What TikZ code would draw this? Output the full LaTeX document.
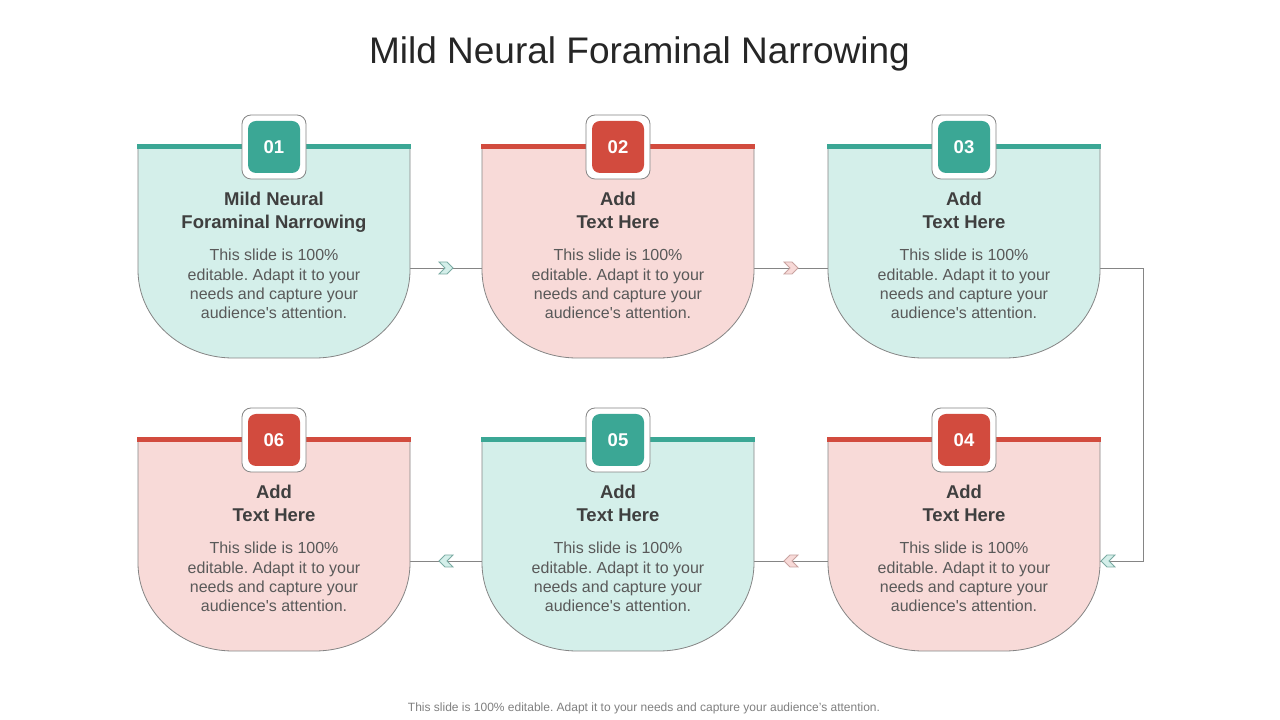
\documentclass[tikz,border=0pt]{standalone}
\usepackage{fontspec}
\setmainfont{Liberation Sans}
\usetikzlibrary{shapes.symbols,calc}
\definecolor{teal1}{HTML}{3BA795}
\definecolor{red1}{HTML}{D24B3E}
\definecolor{ltteal}{HTML}{D4EFEA}
\definecolor{ltpink}{HTML}{F8DAD8}
\definecolor{outl}{HTML}{858585}
\definecolor{titlec}{HTML}{3F3F3F}
\definecolor{bodyc}{HTML}{595959}
\definecolor{chevteal}{HTML}{7AABA3}
\definecolor{chevpink}{HTML}{C9A3A0}
\tikzset{
  conn/.style={draw=outl, line width=0.9pt},
  chev/.style={signal, minimum width=14pt, minimum height=12pt, inner sep=0pt, line width=0.8pt},
  chevE/.style={chev, signal from=west, signal to=east},
  chevW/.style={chev, signal from=east, signal to=west},
  tchev/.style={fill=ltteal, draw=chevteal},
  pchev/.style={fill=ltpink, draw=chevpink},
  ttl/.style={anchor=base, text=titlec, font=\fontsize{18.5}{22}\selectfont\bfseries, inner sep=0pt},
  bod/.style={anchor=base, text=bodyc, font=\fontsize{16}{19}\selectfont, inner sep=0pt},
  num/.style={text=white, font=\fontsize{18.5}{20}\selectfont\bfseries, inner sep=0pt},
}
\newcommand\stepcard[8]{%
  \begin{scope}[shift={(#2,#3)}]
    \draw[fill=#5, draw=outl, line width=0.8pt] (-136,0) -- (-136,-123.5)
      arc[start angle=180, end angle=270, x radius=95pt, y radius=88pt] -- (41,-211.5)
      arc[start angle=270, end angle=360, x radius=95pt, y radius=88pt] -- (136,0) -- cycle;
    \draw[#4, line width=5pt] (-137,0) -- (137,0);
    \node[draw=outl, fill=white, line width=0.8pt, rounded corners=9pt, minimum width=64pt, minimum height=64pt, inner sep=0pt] (#1-b) at (0,-0.5) {};
    \node[fill=#4, rounded corners=8pt, minimum width=52pt, minimum height=52pt, inner sep=0pt] (#1-bi) at (0,-0.5) {};
    \node[num] (#1-n) at (0,-0.5) {#6};
    \node[ttl] (#1-t1) at (0,-59.2) {#7};
    \node[ttl] (#1-t2) at (0,-82.5) {#8};
    \node[bod] (#1-d1) at (0,-114.5) {This slide is 100\%};
    \node[bod] (#1-d2) at (0,-133.8) {editable. Adapt it to your};
    \node[bod] (#1-d3) at (0,-152.9) {needs and capture your};
    \node[bod] (#1-d4) at (0,-171.9) {audience\textquotesingle s attention.};
  \end{scope}}
\begin{document}
\frenchspacing
\begin{tikzpicture}[x=1pt,y=1pt]
\fill[white] (0,0) rectangle (1280,720);
\useasboundingbox (0,0) rectangle (1280,720);
\node[anchor=base, text=black!85, font=\fontsize{37}{40}\selectfont, inner sep=0pt] (title) at (639.5,656) {Mild Neural Foraminal Narrowing};
% connectors
\coordinate (c1r) at (410,452);
\coordinate (c2l) at (482,452);
\coordinate (c2r) at (754,452);
\coordinate (c3l) at (828,452);
\coordinate (c3r) at (1100,452);
\coordinate (turn1) at (1143,452);
\coordinate (turn2) at (1143,159);
\coordinate (c4r) at (1100,159);
\coordinate (c4l) at (828,159);
\coordinate (c5r) at (754,159);
\coordinate (c5l) at (482,159);
\coordinate (c6r) at (410,159);
\draw[conn] (c1r) -- (c2l);
\draw[conn] (c2r) -- (c3l);
\draw[conn] (c3r) -- (turn1) -- (turn2) -- (c4r);
\draw[conn] (c4l) -- (c5r);
\draw[conn] (c5l) -- (c6r);
\node[chevE, tchev] (ch1) at ($(c1r)!0.5!(c2l)$) {};
\node[chevE, pchev] (ch2) at ($(c2r)!0.5!(c3l)$) {};
\node[chevW, tchev] (ch3) at (1108,159) {};
\node[chevW, pchev] (ch4) at ($(c4l)!0.5!(c5r)$) {};
\node[chevW, tchev] (ch5) at ($(c5l)!0.5!(c6r)$) {};
% cards
\stepcard{k1}{274}{573.5}{teal1}{ltteal}{01}{Mild Neural}{Foraminal Narrowing}
\stepcard{k2}{618}{573.5}{red1}{ltpink}{02}{Add}{Text Here}
\stepcard{k3}{964}{573.5}{teal1}{ltteal}{03}{Add}{Text Here}
\stepcard{k4}{964}{280.5}{red1}{ltpink}{04}{Add}{Text Here}
\stepcard{k5}{618}{280.5}{teal1}{ltteal}{05}{Add}{Text Here}
\stepcard{k6}{274}{280.5}{red1}{ltpink}{06}{Add}{Text Here}
\node[anchor=base, text=black!50, font=\fontsize{12}{14}\selectfont, inner sep=0pt] (foot) at (644,8) {This slide is 100\% editable. Adapt it to your needs and capture your audience’s attention.};
\end{tikzpicture}
\end{document}
